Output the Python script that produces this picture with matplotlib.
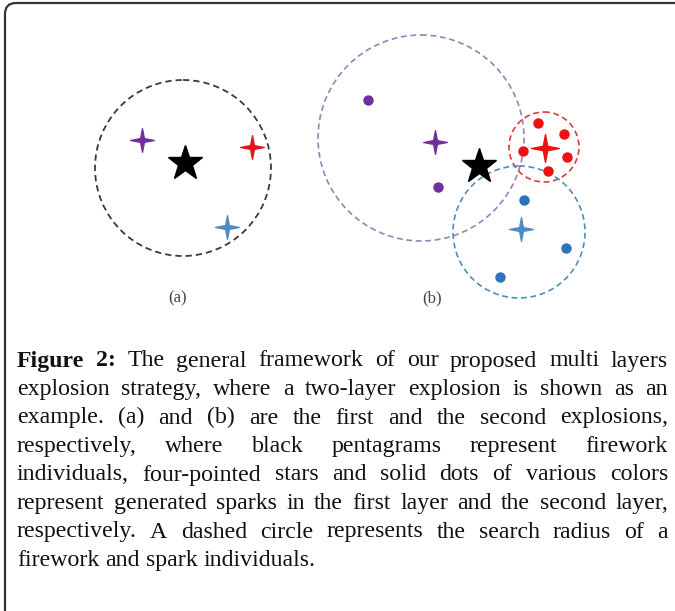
import matplotlib
matplotlib.use("Agg")
import matplotlib.pyplot as plt
from matplotlib.path import Path
from matplotlib.patches import Circle, FancyBboxPatch

# panel (a): one firework, three first-layer sparks
a_firework = (185, 163)
a_circle = (183, 168, 88)
a_spark_x = [142, 252, 227]
a_spark_y = [140, 147, 227]
a_spark_colors = ["#7030a0", "#e8141c", "#4f8bc9"]

# panel (b): firework + sparks of first layer, each with its own dots
b_firework = (479, 166)
b_groups = {
    "purple": dict(center=(421, 138), radius=103, star=(435, 142),
                   dots_x=[368, 438], dots_y=[100, 187],
                   color="#7030a0", ring="#9a80b8"),
    "red": dict(center=(544, 147), radius=35, star=(545, 148),
                dots_x=[538, 564, 567, 548, 523], dots_y=[123, 134, 157, 171, 151],
                color="#ee1111", ring="#e03a3a"),
    "blue": dict(center=(519, 232), radius=66, star=(521, 229),
                 dots_x=[524, 566, 500], dots_y=[200, 248, 277],
                 color="#2f73b8", ring="#4a90b8"),
}
star_colors = {"purple": "#7030a0", "red": "#ee1111", "blue": "#4f8bc9"}

caption_lines = [
    "Figure 2: The general framework of our proposed multi layers",
    "explosion strategy, where a two-layer explosion is shown as an",
    "example. (a) and (b) are the first and the second explosions,",
    "respectively, where black pentagrams represent firework",
    "individuals, four-pointed stars and solid dots of various colors",
    "represent generated sparks in the first layer and the second layer,",
    "respectively. A dashed circle represents the search radius of a",
    "firework and spark individuals.",
]

# four pointed star marker
k = 0.16
star4 = Path([(0, 1), (k, k), (1, 0), (k, -k), (0, -1), (-k, -k), (-1, 0), (-k, k), (0, 1)],
             [Path.MOVETO] + [Path.LINETO] * 7 + [Path.CLOSEPOLY])

fig = plt.figure(figsize=(6.75, 6.11), dpi=100)
ax = fig.add_axes([0, 0, 1, 1])
ax.set_xlim(0, 675)
ax.set_ylim(611, 0)
ax.axis("off")

# frame
ax.add_patch(FancyBboxPatch((5, 3), 700, 620, boxstyle="round,pad=0,rounding_size=11",
                            fc="none", ec="#333333", lw=1.6))

dash = (0, (3.5, 2.2))

# (a)
cx, cy, r = a_circle
ax.add_patch(Circle((cx, cy), r, fill=False, ec="#3a3a3a", lw=1.3, ls=dash))
for x, y, c in zip(a_spark_x, a_spark_y, a_spark_colors):
    ax.plot(x, y, marker=star4, ms=17, color=c, mec=c)
ax.plot(*a_firework, marker="*", ms=26, color="black")
ax.text(178, 298, "(a)", ha="center", va="center", fontsize=12, family="Liberation Serif", color="#444444")

# (b)
for name, g in b_groups.items():
    ax.add_patch(Circle(g["center"], g["radius"], fill=False, ec=g["ring"], lw=1.2, ls=dash))
for name, g in b_groups.items():
    ax.plot(g["dots_x"], g["dots_y"], "o", ms=6.5, color=g["color"], ls="none")
    ax.plot(*g["star"], marker=star4, ms=17 if name != "red" else 20, color=star_colors[name])
ax.plot(*b_firework, marker="*", ms=26, color="black")
ax.text(432, 298, "(b)", ha="center", va="center", fontsize=12, family="Liberation Serif", color="#444444")

# caption, justified by hand
fs = 17.2
fam = "Liberation Serif"
left, right = 17, 668
base0, step = 366.5, 28.5
fig.canvas.draw()
rend = fig.canvas.get_renderer()


def wpx(s, weight):
    t = ax.text(0, 0, s, fontsize=fs, family=fam, weight=weight)
    w = t.get_window_extent(rend).width
    t.remove()
    return w


space = wpx("a a", "normal") - 2 * wpx("a", "normal")
for i, line in enumerate(caption_lines):
    words = line.split(" ")
    weights = ["bold" if (i == 0 and j < 2) else "normal" for j in range(len(words))]
    widths = [wpx(w, wt) for w, wt in zip(words, weights)]
    last = i == len(caption_lines) - 1
    gap = space if last else (right - left - sum(widths)) / (len(words) - 1)
    x = left
    y = base0 + i * step
    for w, wt, wd in zip(words, weights, widths):
        ax.text(x, y, w, fontsize=fs, family=fam, weight=wt, va="baseline", ha="left", color="#111111")
        x += wd + gap

fig.savefig("out.png", dpi=100)
